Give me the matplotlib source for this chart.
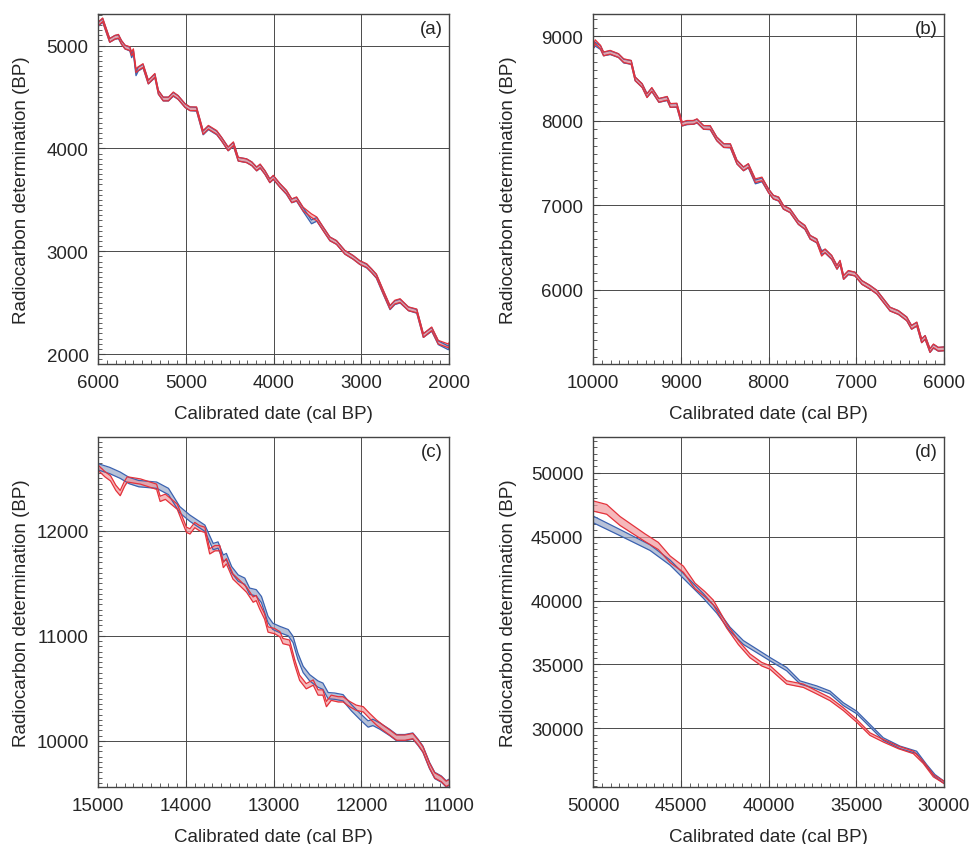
import matplotlib
matplotlib.use("Agg")
import numpy as np
import matplotlib.pyplot as plt
from matplotlib.ticker import MultipleLocator

plt.rcParams['font.family'] = ['Liberation Sans', 'DejaVu Sans']

# ---- panel (a): 6000-2000 cal BP
a_x = [6000, 5950, 5870, 5810, 5770, 5735, 5695, 5640, 5620, 5600, 5570, 5545, 5490, 5430, 5355,
       5315, 5260, 5200, 5145, 5090, 5010, 4955, 4880, 4805, 4745, 4650, 4595, 4520, 4460, 4405,
       4310, 4250, 4195, 4155, 4100, 4045, 4005, 3930, 3855, 3795, 3740, 3665, 3570, 3510, 3435,
       3360, 3285, 3190, 3095, 3020, 2940, 2885, 2830, 2750, 2675, 2620, 2560, 2465, 2370, 2295,
       2200, 2125, 2010, 2000]
a_red = [5210, 5250, 5050, 5080, 5090, 5030, 4985, 4970, 4920, 4950, 4755, 4775, 4805, 4645, 4710,
         4545, 4480, 4480, 4530, 4495, 4415, 4385, 4385, 4155, 4205, 4155, 4090, 3995, 4045, 3895,
         3880, 3850, 3800, 3830, 3765, 3685, 3720, 3640, 3575, 3490, 3510, 3410, 3345, 3315, 3215,
         3120, 3085, 2990, 2940, 2890, 2860, 2810, 2760, 2600, 2455, 2505, 2520, 2440, 2420, 2180,
         2245, 2115, 2080, 2095]
a_blue = [5205, 5245, 5050, 5080, 5085, 5030, 4985, 4965, 4900, 4940, 4725, 4770, 4800, 4645, 4705,
          4545, 4480, 4480, 4525, 4495, 4415, 4385, 4380, 4150, 4200, 4150, 4090, 3995, 4040, 3895,
          3880, 3850, 3800, 3825, 3765, 3685, 3715, 3640, 3570, 3490, 3505, 3405, 3285, 3310, 3215,
          3120, 3085, 2990, 2940, 2890, 2855, 2810, 2755, 2595, 2450, 2500, 2515, 2440, 2415, 2180,
          2240, 2110, 2060, 2085]
a_err = 18

# ---- panel (b): 10000-6000 cal BP
b_x = [9990, 9975, 9915, 9880, 9805, 9710, 9650, 9565, 9520, 9440, 9385, 9330, 9250, 9155, 9120,
       9045, 8985, 8930, 8855, 8815, 8740, 8665, 8590, 8510, 8435, 8360, 8285, 8230, 8150, 8075,
       8000, 7945, 7885, 7830, 7755, 7660, 7585, 7525, 7450, 7395, 7355, 7280, 7220, 7185, 7145,
       7090, 7015, 6935, 6845, 6765, 6690, 6615, 6520, 6425, 6370, 6310, 6255, 6215, 6160, 6120,
       6065, 6005]
b_red = [8890, 8935, 8870, 8790, 8810, 8770, 8710, 8690, 8495, 8415, 8295, 8370, 8240, 8265, 8180,
         8185, 7960, 7980, 7980, 8000, 7920, 7920, 7785, 7705, 7705, 7510, 7430, 7470, 7290, 7310,
         7170, 7095, 7075, 6975, 6935, 6795, 6740, 6620, 6580, 6420, 6460, 6385, 6265, 6325, 6145,
         6205, 6185, 6085, 6030, 5970, 5870, 5770, 5730, 5655, 5555, 5595, 5395, 5435, 5280, 5335,
         5295, 5300]
b_blue = [8885, 8905, 8865, 8790, 8805, 8770, 8705, 8690, 8495, 8415, 8300, 8365, 8240, 8260, 8180,
          8180, 7960, 7975, 7980, 7995, 7920, 7915, 7785, 7705, 7700, 7510, 7430, 7465, 7275, 7300,
          7170, 7095, 7070, 6975, 6935, 6795, 6735, 6620, 6575, 6440, 6455, 6380, 6265, 6320, 6145,
          6200, 6185, 6085, 6030, 5970, 5870, 5770, 5730, 5655, 5555, 5590, 5395, 5435, 5280, 5330,
          5295, 5300]
b_err = 22

# ---- panel (c): 15000-11000 cal BP
c_red_x = [15000, 14925, 14860, 14800, 14750, 14700, 14670, 14520, 14335, 14295, 14235, 14100,
           13995, 13955, 13900, 13845, 13785, 13730, 13670, 13615, 13575, 13540, 13465, 13390,
           13310, 13235, 13200, 13160, 13105, 13065, 12990, 12930, 12895, 12820, 12760, 12705,
           12630, 12550, 12495, 12440, 12400, 12345, 12265, 12210, 12135, 12060, 11980, 11905,
           11830, 11755, 11680, 11600, 11505, 11415, 11355, 11300, 11225, 11165, 11090, 11035, 11000]
c_red = [12600, 12540, 12500, 12410, 12360, 12450, 12490, 12470, 12420, 12305, 12325, 12230,
         12010, 11995, 12055, 12025, 12010, 11805, 11835, 11835, 11675, 11710, 11565, 11505,
         11440, 11345, 11360, 11280, 11185, 11060, 11045, 11015, 10950, 10935, 10745, 10600,
         10520, 10555, 10460, 10460, 10350, 10410, 10395, 10395, 10350, 10315, 10300, 10235,
         10175, 10125, 10080, 10030, 10030, 10045, 9985, 9920, 9765, 9670, 9635, 9590, 9605]
c_blue_x = [15000, 14870, 14750, 14650, 14540, 14335, 14200, 14070, 13955, 13785, 13750, 13690,
            13635, 13575, 13540, 13480, 13405, 13330, 13275, 13200, 13140, 13065, 13010, 12930,
            12835, 12780, 12725, 12665, 12590, 12495, 12440, 12380, 12305, 12210, 12115, 12020,
            11925, 11870, 11790, 11680, 11600, 11505, 11415, 11355, 11300, 11225, 11165, 11090,
            11035, 11000]
c_blue = [12610, 12575, 12530, 12480, 12450, 12435, 12375, 12200, 12120, 12025, 11960, 11850,
          11865, 11740, 11755, 11630, 11550, 11520, 11425, 11410, 11345, 11155, 11090, 11060,
          11030, 10965, 10805, 10680, 10600, 10540, 10520, 10430, 10425, 10410, 10315, 10235,
          10160, 10175, 10140, 10080, 10030, 10030, 10045, 9985, 9920, 9765, 9670, 9635,
          9590, 9605]
c_red_err = 25
c_blue_err = 30

# ---- panel (d): 50000-30000 cal BP
d_red_x = [50000, 49220, 48460, 47610, 47040, 46280, 45610, 44850, 44190, 43620, 43145, 42385,
           41720, 41055, 40390, 39915, 38965, 38015, 37255, 36500, 35740, 34980, 34220, 33460,
           32605, 31750, 31180, 30610, 30000]
d_red = [47400, 47135, 46225, 45445, 44920, 44270, 43230, 42450, 41145, 40495, 39845, 38020,
         36720, 35675, 35025, 34765, 33595, 33335, 32815, 32290, 31510, 30600, 29555, 29035,
         28515, 28125, 27345, 26300, 25780]
d_red_err = [400, 380, 350, 320, 300, 280, 260, 240, 220, 200, 190, 170, 160, 150, 140, 140,
             130, 130, 120, 120, 110, 110, 100, 100, 100, 100, 90, 90, 90]
d_blue_x = [50000, 48460, 46750, 45610, 44850, 43715, 42955, 42195, 41435, 40675, 39915, 38965,
            38205, 37255, 36500, 35740, 34980, 34220, 33460, 32510, 31560, 30990, 30515, 30000]
d_blue = [46355, 45315, 44140, 42970, 41925, 40365, 39195, 37760, 36720, 36070, 35415, 34635,
          33595, 33205, 32815, 31900, 31250, 30210, 29165, 28515, 28125, 27085, 26300, 25780]
d_blue_err = [260, 240, 220, 200, 190, 180, 170, 160, 150, 140, 130, 130, 120, 120, 110, 110,
              100, 100, 100, 100, 90, 90, 90, 90]

RED = '#e4323b'
RED_FILL = '#f19a9e'
BLUE = '#3b62b0'
BLUE_FILL = '#9aa9c8'
GRID = '#4a4a4a'
TXT = '#262626'
FS = 13.5


def band(ax, x, y, err, line, fill):
    x = np.asarray(x, float)
    y = np.asarray(y, float)
    e = np.broadcast_to(np.asarray(err, float), y.shape)
    ax.fill_between(x, y - e, y + e, color=fill, alpha=0.7, lw=0)
    ax.plot(x, y + e, color=line, lw=0.9)
    ax.plot(x, y - e, color=line, lw=0.9)


def setup(ax, xlim, ylim, xmaj, xmin, ymaj, ymin, tag, ylab_x):
    ax.set_xlim(*xlim)
    ax.set_ylim(*ylim)
    ax.xaxis.set_major_locator(MultipleLocator(xmaj))
    ax.xaxis.set_minor_locator(MultipleLocator(xmin))
    ax.yaxis.set_major_locator(MultipleLocator(ymaj))
    ax.yaxis.set_minor_locator(MultipleLocator(ymin))
    ax.grid(True, which='major', color=GRID, lw=0.7)
    ax.set_axisbelow(True)
    ax.tick_params(which='both', direction='in', top=False, right=False,
                   colors='#444444', labelcolor=TXT, labelsize=FS)
    ax.tick_params(which='major', length=5, width=0.8, pad=7)
    ax.tick_params(which='minor', length=3, width=0.6)
    for s in ax.spines.values():
        s.set_color('#444444')
        s.set_linewidth(1.0)
    ax.set_xlabel('Calibrated date (cal BP)', fontsize=FS, color=TXT, labelpad=10)
    ax.set_ylabel('Radiocarbon determination (BP)', fontsize=FS, color=TXT, va='center')
    ax.yaxis.set_label_coords(ylab_x, 0.5)
    ax.text(0.982, 0.982, tag, transform=ax.transAxes, ha='right', va='top',
            fontsize=FS, color=TXT)


fig = plt.figure(figsize=(9.73, 8.45), dpi=100)
W, H = 0.3607, 0.4148
ax_a = fig.add_axes([0.101, 0.568, W, H])
ax_b = fig.add_axes([0.6095, 0.568, W, H])
ax_c = fig.add_axes([0.101, 0.0671, W, H])
ax_d = fig.add_axes([0.6095, 0.0671, W, H])

band(ax_a, a_x, a_blue, a_err, BLUE, BLUE_FILL)
band(ax_a, a_x, a_red, a_err, RED, RED_FILL)
setup(ax_a, (6000, 2000), (1903, 5311), 1000, 100, 1000, 50, '(a)', -0.22)

band(ax_b, b_x, b_blue, b_err, BLUE, BLUE_FILL)
band(ax_b, b_x, b_red, b_err, RED, RED_FILL)
setup(ax_b, (10000, 6000), (5120, 9268), 1000, 100, 1000, 100, '(b)', -0.242)

band(ax_c, c_blue_x, c_blue, c_blue_err, BLUE, BLUE_FILL)
band(ax_c, c_red_x, c_red, c_red_err, RED, RED_FILL)
setup(ax_c, (15000, 11000), (9557, 12896), 1000, 100, 1000, 50, '(c)', -0.218)

band(ax_d, d_blue_x, d_blue, d_blue_err, BLUE, BLUE_FILL)
band(ax_d, d_red_x, d_red, d_red_err, RED, RED_FILL)
setup(ax_d, (50000, 30000), (25391, 52813), 5000, 500, 5000, 500, '(d)', -0.242)

fig.savefig('out.png', dpi=100)
